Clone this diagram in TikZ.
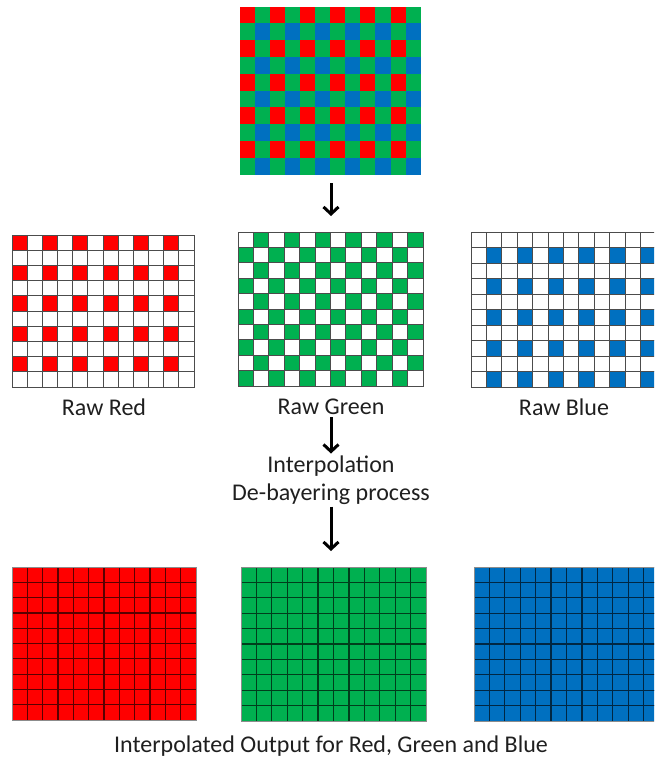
\documentclass[tikz,border=0pt]{standalone}
\usepackage{fontspec}
\setmainfont{Carlito}
\usepackage{tikz}
\usetikzlibrary{arrows.meta}

\definecolor{ored}{HTML}{FF0000}
\definecolor{ogreen}{HTML}{00B050}
\definecolor{oblue}{HTML}{0070C0}
\definecolor{txt}{HTML}{1F1F1F}

% colour of cell (row parity*2 + column parity) for each grid
\colorlet{bay0}{ored}\colorlet{bay1}{ogreen}\colorlet{bay2}{ogreen}\colorlet{bay3}{oblue}
\colorlet{rr0}{ored}\colorlet{rr1}{white}\colorlet{rr2}{white}\colorlet{rr3}{white}
\colorlet{rg0}{white}\colorlet{rg1}{ogreen}\colorlet{rg2}{ogreen}\colorlet{rg3}{white}
\colorlet{rb0}{white}\colorlet{rb1}{white}\colorlet{rb2}{white}\colorlet{rb3}{oblue}
\colorlet{or0}{ored}\colorlet{or1}{ored}\colorlet{or2}{ored}\colorlet{or3}{ored}
\colorlet{og0}{ogreen}\colorlet{og1}{ogreen}\colorlet{og2}{ogreen}\colorlet{og3}{ogreen}
\colorlet{ob0}{oblue}\colorlet{ob1}{oblue}\colorlet{ob2}{oblue}\colorlet{ob3}{oblue}

\tikzset{
  flow/.style={-{Straight Barb[length=7pt,width=15pt]}, line width=3pt, black},
  label/.style={text=txt, font=\fontsize{24}{28}\selectfont, inner sep=2pt},
  nolines/.style={draw=none},
  rawlines/.style={draw=black!70, line width=1pt},
  outlines/.style={line width=1.2pt},
  frame/.style={draw=black!45, line width=1pt}
}

% 12x10 sensor: (x0,y0) (x1,y1) colour set, line style
\newcommand{\sensor}[6]{
  \begin{scope}[shift={(#1,#2)}, xscale={(#3-#1)/12}, yscale={(#4-#2)/10}]
    \foreach \r in {0,...,9}
      \foreach \c in {0,...,11} {
        \pgfmathtruncatemacro\p{2*mod(\r,2)+mod(\c,2)}
        \fill[#5\p] (\c-0.02,\r-0.02) rectangle ++(1.04,1.04);
      }
    \foreach \c in {1,...,11} \draw[#6] (\c,0) -- (\c,10);
    \foreach \r in {1,...,9} \draw[#6] (0,\r) -- (12,\r);
  \end{scope}
}

\begin{document}
\begin{tikzpicture}[x=1pt, y=-1pt]
  \useasboundingbox (0,0) rectangle (654,763);
  \clip (0,0) rectangle (654,763);

  % bayer mosaic
  \sensor{240}{7}{421}{175}{bay}{nolines}

  % raw channels
  \sensor{12}{235}{194}{387}{rr}{rawlines}
  \draw[rawlines] (12,235) rectangle (194,387);
  \sensor{238}{232}{423}{386}{rg}{rawlines}
  \draw[rawlines] (238,232) rectangle (423,386);
  \sensor{471}{232}{656}{387}{rb}{rawlines}
  \draw[rawlines] (471,232) rectangle (656,387);

  % interpolated output
  \sensor{12}{567}{196}{720}{or}{outlines, draw=ored!35!black}
  \draw[frame] (12,567) rectangle (196,720);
  \sensor{241}{567}{426}{721}{og}{outlines, draw=ogreen!35!black}
  \draw[frame] (241,567) rectangle (426,721);
  \sensor{474}{567}{659}{721}{ob}{outlines, draw=oblue!35!black}
  \draw[frame] (474,567) rectangle (659,721);

  \node[label] (rawred) at (104,407) {Raw Red};
  \node[label] (rawgreen) at (331,407) {Raw Green};
  \node[label] (rawblue) at (564,407) {Raw Blue};
  \node[label] (interp) at (331,466) {Interpolation};
  \node[label] (debayer) at (331,494) {De-bayering process};
  \node[label] (output) at (331,746) {Interpolated Output for Red, Green and Blue};

  \coordinate (bayer) at (331,183);
  \coordinate (rawtop) at (331,216);
  \coordinate (outtop) at (331,551);

  \draw[flow] (bayer) -- (rawtop);
  \draw[flow] (rawgreen.south) -- (interp.north);
  \draw[flow] (debayer.south) -- (outtop);
\end{tikzpicture}
\end{document}
